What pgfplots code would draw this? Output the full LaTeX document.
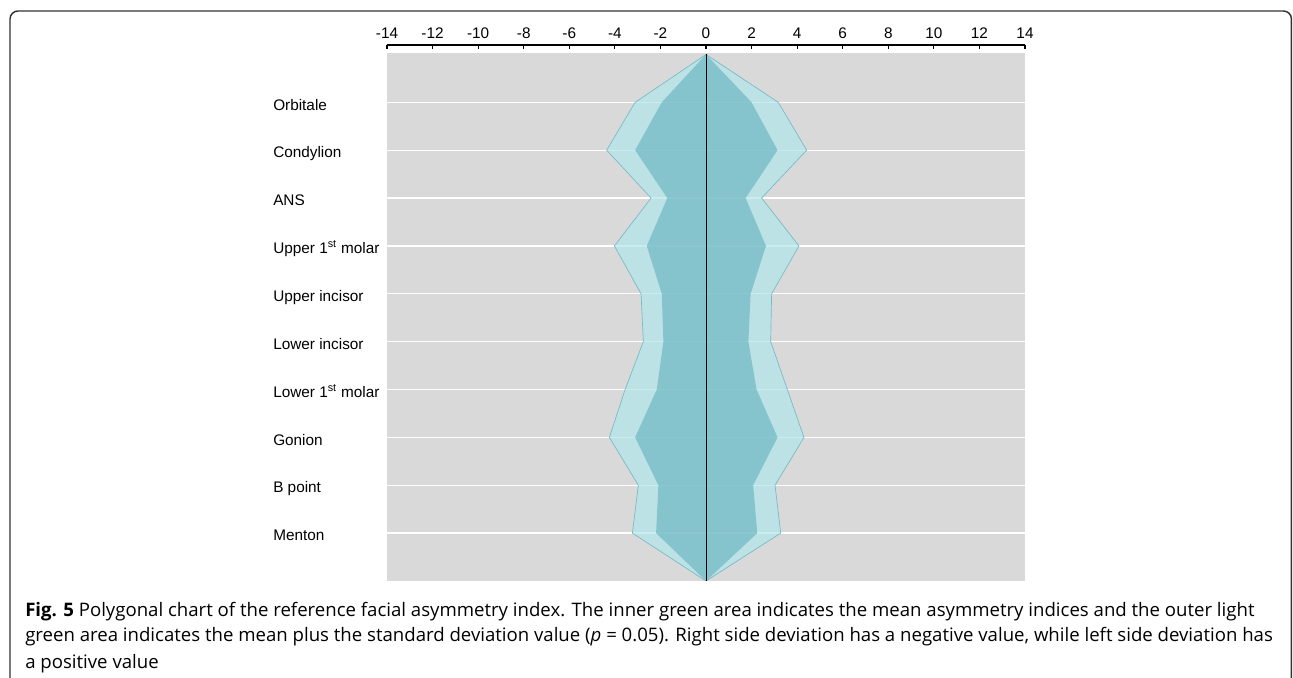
\documentclass[border=0pt]{standalone}
\usepackage{fontspec}
\setmainfont{Liberation Sans}
\newfontfamily\capfont{Open Sans}
\usepackage{pgfplots}
\pgfplotsset{compat=1.18}
\definecolor{bggray}{RGB}{217,217,217}
\definecolor{outerc}{RGB}{177,230,236}
\definecolor{innerc}{RGB}{112,184,195}
\definecolor{edgec}{RGB}{120,185,195}
\begin{document}
\begin{tikzpicture}
\useasboundingbox (0,0) rectangle (969.75pt,508.5pt);
\draw[line width=1.1pt, color=black!80, rounded corners=6pt] (7.5pt,-2pt) -- (7.5pt,500.25pt) -- (968.6pt,500.25pt) -- (968.6pt,-2pt);
% main plot area
\begin{axis}[
  at={(290.25pt,72.75pt)}, anchor=south west,
  scale only axis, width=478.5pt, height=396pt,
  xmin=-14, xmax=14, ymin=0, ymax=11.03,
  axis background/.style={fill=bggray},
  axis x line=none, axis y line*=left,
  y axis line style={draw=none},
  xtick=\empty,
  ytick style={draw=none},
  ytick={1,...,10},
  yticklabels={Menton, B point, Gonion, Lower 1\textsuperscript{st} molar, Lower incisor, Upper incisor, Upper 1\textsuperscript{st} molar, ANS, Condylion, Orbitale},
  ymajorgrids, major grid style={white, line width=1pt},
  ticklabel style={font=\fontsize{11.5pt}{13pt}\selectfont},
  yticklabel style={anchor=base west, inner sep=0pt, xshift=-85.5pt, yshift=-5.8pt},
]
\addplot[fill=outerc, fill opacity=0.7, draw=edgec, line width=0.5pt] coordinates {
 (0,11) (3.17,10) (4.42,9) (2.44,8) (4.08,7) (2.88,6) (2.84,5) (3.57,4) (4.30,3) (3.03,2) (3.28,1) (0,0)
 (-3.23,1) (-2.97,2) (-4.24,3) (-3.55,4) (-2.75,5) (-2.85,6) (-4.02,7) (-2.41,8) (-4.36,9) (-3.11,10)} -- cycle;
\addplot[fill=innerc, fill opacity=0.7, draw=none] coordinates {
 (0,11) (2.00,10) (3.14,9) (1.74,8) (2.63,7) (1.96,6) (1.86,5) (2.22,4) (3.14,3) (2.07,2) (2.25,1) (0,0)
 (-2.19,1) (-2.09,2) (-3.11,3) (-2.16,4) (-1.87,5) (-1.94,6) (-2.60,7) (-1.70,8) (-3.11,9) (-1.94,10)} -- cycle;
\addplot[black, line width=0.7pt] coordinates {(0,0) (0,11)};
\end{axis}
% top x axis, a few px above the grey area
\begin{axis}[
  at={(290.25pt,72.75pt)}, anchor=south west,
  scale only axis, width=478.5pt, height=402pt,
  xmin=-14, xmax=14, ymin=0, ymax=1,
  axis x line*=top, axis y line=none,
  x axis line style={-, line width=0.8pt},
  xtick={-14,-12,...,14},
  tick align=inside,
  major tick length=3pt,
  xtick style={black, line width=0.8pt},
  /pgf/number format/assume math mode=true,
  ticklabel style={font=\fontsize{11.5pt}{13pt}\selectfont},
  xticklabel style={yshift=1pt},
]
\end{axis}
\begin{scope}[every node/.style={anchor=base west, inner sep=0pt, font=\capfont\fontsize{13.95pt}{16pt}\selectfont}]
\node at (18.75pt,46pt) {\textbf{Fig. 5} Polygonal chart of the reference facial asymmetry index. The inner green area indicates the mean asymmetry indices and the outer light};
\node at (18.75pt,27.2pt) {green area indicates the mean plus the standard deviation value (\textit{p} = 0.05). Right side deviation has a negative value, while left side deviation has};
\node at (18.75pt,7.3pt) {a positive value};
\end{scope}
\end{tikzpicture}
\end{document}
